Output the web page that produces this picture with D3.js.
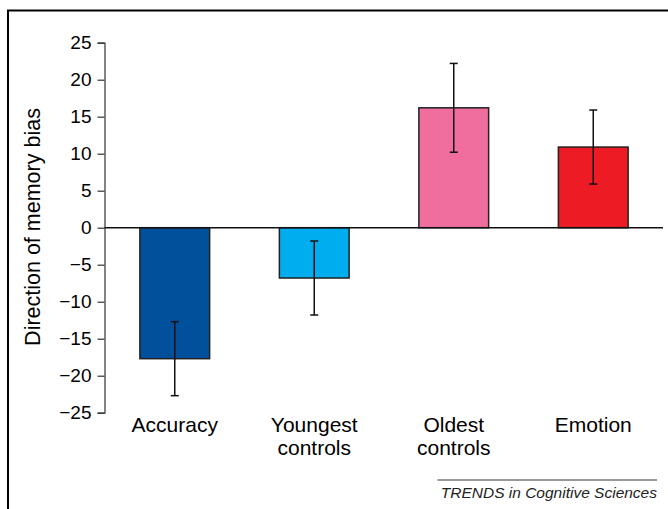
<!DOCTYPE html>
<html>
<head>
<meta charset="utf-8">
<style>
  body { margin: 0; background: #fff; }
  text { font-family: "Liberation Sans", Arial, sans-serif; }
</style>
</head>
<body>
<svg id="chart"></svg>
<script src="https://d3js.org/d3.v7.min.js"></script>
<script>
var categories = [["Accuracy"], ["Youngest", "controls"], ["Oldest", "controls"], ["Emotion"]];
var values = [-17.7, -6.8, 16.2, 10.9];
var errors = [5, 5, 6, 5];
var colors = ["#00509b", "#00aeef", "#f06e9e", "#ed1c24"];
var yTicks = [-25, -20, -15, -10, -5, 0, 5, 10, 15, 20, 25];

var width = 668, height = 509;

var svg = d3.select("#chart")
    .attr("width", width)
    .attr("height", height);

// frame, only top and left edge visible
svg.append("path")
    .attr("d", "M8,509 L8,10.5 L668,10.5")
    .attr("fill", "none")
    .attr("stroke", "#000")
    .attr("stroke-width", 2);

var x = d3.scaleBand()
    .domain(d3.range(values.length))
    .range([105, 663])
    .paddingInner(0.5)
    .paddingOuter(0.25);

var y = d3.scaleLinear()
    .domain([-25, 25])
    .range([412.7, 42.7]);

// y axis
var yAxis = d3.axisLeft(y)
    .tickValues(yTicks)
    .tickSize(7)
    .tickPadding(6)
    .tickFormat(function(d) { return d < 0 ? "\u2212" + Math.abs(d) : d; });

var gy = svg.append("g")
    .attr("transform", "translate(104.5,0)")
    .call(yAxis);
gy.select(".domain").attr("stroke", "#333").attr("stroke-width", 1.2);
gy.selectAll(".tick line").attr("stroke", "#333").attr("stroke-width", 1.2);
gy.selectAll(".tick text")
    .attr("fill", "#000")
    .style("font-size", "19px")
    .style("font-family", "'Liberation Sans', Arial, sans-serif");

svg.append("text")
    .attr("transform", "translate(40,227) rotate(-90)")
    .attr("text-anchor", "middle")
    .style("font-size", "21.5px")
    .text("Direction of memory bias");

// bars
svg.selectAll("rect.bar")
    .data(values)
    .enter().append("rect")
    .attr("class", "bar")
    .attr("x", function(d, i) { return x(i); })
    .attr("width", x.bandwidth())
    .attr("y", function(d) { return y(Math.max(0, d)); })
    .attr("height", function(d) { return Math.abs(y(d) - y(0)); })
    .attr("fill", function(d, i) { return colors[i]; })
    .attr("stroke", "#222")
    .attr("stroke-width", 1.5);

// zero line
svg.append("line")
    .attr("x1", 104.5).attr("x2", 663)
    .attr("y1", y(0)).attr("y2", y(0))
    .attr("stroke", "#111")
    .attr("stroke-width", 1.5);

// error bars
var eb = svg.selectAll("g.err")
    .data(values)
    .enter().append("g")
    .attr("class", "err")
    .attr("stroke", "#111")
    .attr("stroke-width", 1.5);

eb.append("line")
    .attr("x1", function(d, i) { return x(i) + x.bandwidth() / 2; })
    .attr("x2", function(d, i) { return x(i) + x.bandwidth() / 2; })
    .attr("y1", function(d, i) { return y(d + errors[i]); })
    .attr("y2", function(d, i) { return y(d - errors[i]); });

[1, -1].forEach(function(s) {
  eb.append("line")
      .attr("x1", function(d, i) { return x(i) + x.bandwidth() / 2 - 4; })
      .attr("x2", function(d, i) { return x(i) + x.bandwidth() / 2 + 4; })
      .attr("y1", function(d, i) { return y(d + s * errors[i]); })
      .attr("y2", function(d, i) { return y(d + s * errors[i]); });
});

// category labels
var labels = svg.selectAll("text.cat")
    .data(categories)
    .enter().append("text")
    .attr("class", "cat")
    .attr("text-anchor", "middle")
    .style("font-size", "21px")
    .attr("transform", function(d, i) { return "translate(" + (x(i) + x.bandwidth() / 2) + ",432)"; });

labels.selectAll("tspan")
    .data(function(d) { return d; })
    .enter().append("tspan")
    .attr("x", 0)
    .attr("y", function(d, j) { return j * 23; })
    .text(function(d) { return d; });

// footer
svg.append("line")
    .attr("x1", 437.5).attr("x2", 657)
    .attr("y1", 480).attr("y2", 480)
    .attr("stroke", "#333")
    .attr("stroke-width", 1);

svg.append("text")
    .attr("x", 657)
    .attr("y", 498)
    .attr("text-anchor", "end")
    .style("font-size", "15.5px")
    .style("font-style", "italic")
    .attr("fill", "#222")
    .text("TRENDS in Cognitive Sciences");
</script>
</body>
</html>
